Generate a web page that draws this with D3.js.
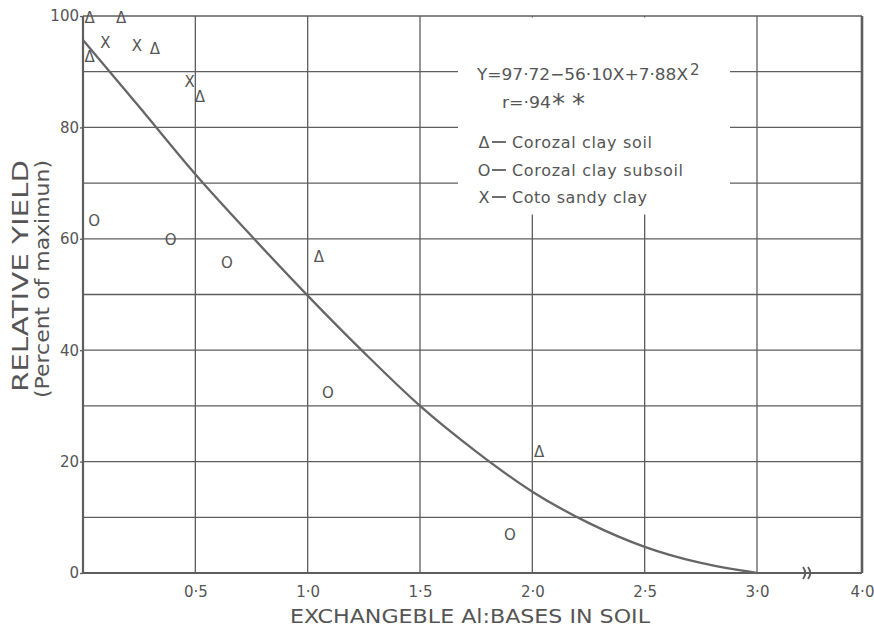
<!DOCTYPE html>
<html><head><meta charset="utf-8">
<script src="https://cdn.jsdelivr.net/npm/d3@7"></script>
<style>
body{margin:0;background:#fff}
svg{display:block}
text{font-family:"DejaVu Sans",sans-serif;fill:#555}
</style>
</head><body>
<svg id="c" width="874" height="629"></svg>
<script>
// ---- data ----
const xTicks = [0.5, 1, 1.5, 2, 2.5, 3, 4];
const xTickLabels = ["0·5", "1·0", "1·5", "2·0", "2·5", "3·0", "4·0"];
const xGrid = [0.5, 1, 1.5, 2, 2.5, 3];
const yTicks = [0, 20, 40, 60, 80, 100];
const yTickLabels = ["0", "20", "40", "60", "80", "100"];
const yGrid = [10, 20, 30, 40, 50, 60, 70, 80, 90];

const soilX = [0.03, 0.03, 0.17, 0.32, 0.52, 1.05, 2.03];
const soilY = [99.6, 92.6, 99.6, 94.0, 85.5, 56.7, 21.7];
const subsoilX = [0.05, 0.39, 0.64, 1.09, 1.90];
const subsoilY = [63.2, 59.7, 55.6, 32.4, 6.9];
const cotoX = [0.10, 0.24, 0.475];
const cotoY = [95.2, 94.7, 88.2];

const curveX = [0, 0.25, 0.5, 0.75, 1.0, 1.25, 1.5, 1.75, 2.0, 2.25, 2.5, 2.75, 3.0];
const curveY = [95.7, 83.7, 71.6, 60.5, 49.8, 39.6, 30.0, 21.8, 14.6, 9.0, 4.7, 1.8, 0];

const legendSymbols = ["Δ", "O", "X"];
const legendLabels = ["Corozal clay soil", "Corozal clay subsoil", "Coto sandy clay"];
const equationText = "Y=97·72−56·10X+7·88X";
const rText = "r=·94";

// ---- layout ----
const svg = d3.select("#c");
const ink = "#5e5e5e";
const x = d3.scaleLinear().domain([0, 3, 4]).range([83, 757, 862]);
const y = d3.scaleLinear().domain([0, 100]).range([573, 16]);

// grid
const g = svg.append("g");
g.selectAll(".hg").data(yGrid).join("line")
  .attr("x1", x(0)).attr("x2", x(4))
  .attr("y1", d => y(d)).attr("y2", d => y(d))
  .attr("stroke", ink).attr("stroke-width", 1.3);
g.selectAll(".vg").data(xGrid).join("line")
  .attr("x1", d => x(d)).attr("x2", d => x(d))
  .attr("y1", y(0)).attr("y2", y(100))
  .attr("stroke", ink).attr("stroke-width", 1.3);

// legend area blank
svg.append("rect").attr("x", 458).attr("y", y(100) + 1.5)
  .attr("width", 272).attr("height", 197).attr("fill", "#fff");

// frame
svg.append("line").attr("x1", x(0)).attr("x2", x(4)).attr("y1", y(100)).attr("y2", y(100))
  .attr("stroke", ink).attr("stroke-width", 1.6);
svg.append("line").attr("x1", x(0)).attr("x2", x(4)).attr("y1", y(0)).attr("y2", y(0))
  .attr("stroke", ink).attr("stroke-width", 2);
svg.append("line").attr("x1", x(0)).attr("x2", x(0)).attr("y1", y(100)).attr("y2", y(0))
  .attr("stroke", ink).attr("stroke-width", 2.2);
svg.append("line").attr("x1", x(4)).attr("x2", x(4)).attr("y1", y(100)).attr("y2", y(0))
  .attr("stroke", ink).attr("stroke-width", 2.6);

// axis break symbol
[803, 808].forEach(px => {
  svg.append("path").attr("d", `M${px},${y(0) - 6} q4.5,6 0,12`)
    .attr("fill", "none").attr("stroke", ink).attr("stroke-width", 2);
});

// axes (labels)
const xa = svg.append("g").attr("transform", `translate(0,${y(0)})`)
  .call(d3.axisBottom(x).tickValues(xTicks).tickSize(0).tickPadding(10)
    .tickFormat((d, i) => xTickLabels[i]));
xa.select(".domain").remove();
xa.selectAll("text").attr("font-size", 15).attr("fill", "#555")
  .attr("font-family", "DejaVu Sans").attr("dy", "0.9em");

const ya = svg.append("g").attr("transform", `translate(${x(0)},0)`)
  .call(d3.axisLeft(y).tickValues(yTicks).tickSize(3).tickPadding(1)
    .tickFormat((d, i) => yTickLabels[i]));
ya.select(".domain").remove();
ya.selectAll("line").attr("stroke", ink).attr("stroke-width", 1.3);
ya.selectAll("text").attr("font-size", 15).attr("fill", "#555")
  .attr("font-family", "DejaVu Sans");

// fitted curve
const line = d3.line().x(d => x(d[0])).y(d => y(d[1])).curve(d3.curveMonotoneX);
svg.append("path").datum(curveX.map((v, i) => [v, curveY[i]]))
  .attr("d", line).attr("fill", "none").attr("stroke", "#666").attr("stroke-width", 2.3);

// markers
function markers(xs, ys, sym) {
  svg.append("g").selectAll("text").data(xs.map((v, i) => [v, ys[i]])).join("text")
    .attr("x", d => x(d[0])).attr("y", d => y(d[1]))
    .attr("text-anchor", "middle").attr("dominant-baseline", "central")
    .attr("font-size", 15).text(sym);
}
markers(soilX, soilY, "Δ");
markers(subsoilX, subsoilY, "O");
markers(cotoX, cotoY, "X");

// equation
const eq = svg.append("text").attr("x", 477).attr("y", 80).attr("font-size", 16);
eq.append("tspan").text(equationText).attr("textLength", 211).attr("lengthAdjust", "spacingAndGlyphs");
eq.append("tspan").text("2").attr("x", 690).attr("dy", -5).attr("font-size", 15);
const rt = svg.append("text").attr("x", 502).attr("y", 108).attr("font-size", 16);
rt.append("tspan").text(rText).attr("textLength", 49).attr("lengthAdjust", "spacingAndGlyphs");
svg.append("text").attr("x", 552).attr("y", 113).attr("font-size", 26).text("**")
  .attr("textLength", 33).attr("lengthAdjust", "spacing");

// legend
const legBase = [148, 176, 203];
const legEnd = [652, 683, 647];
legendLabels.forEach((lab, i) => {
  svg.append("text").attr("x", 484).attr("y", legBase[i]).attr("text-anchor", "middle")
    .attr("font-size", 16).text(legendSymbols[i]);
  svg.append("line").attr("x1", 492).attr("x2", 506)
    .attr("y1", legBase[i] - 6).attr("y2", legBase[i] - 6)
    .attr("stroke", ink).attr("stroke-width", 1.8);
  svg.append("text").attr("x", 512).attr("y", legBase[i]).attr("font-size", 16)
    .attr("textLength", legEnd[i] - 512).attr("lengthAdjust", "spacing").text(lab);
});

// axis titles
svg.append("text").attr("x", 290).attr("y", 623).attr("font-size", 19)
  .attr("textLength", 360).attr("lengthAdjust", "spacingAndGlyphs")
  .text("EXCHANGEBLE Al:BASES IN SOIL");
svg.append("text").attr("transform", "translate(28,392) rotate(-90)")
  .attr("font-size", 21).attr("textLength", 232).attr("lengthAdjust", "spacingAndGlyphs")
  .text("RELATIVE YIELD");
svg.append("text").attr("transform", "translate(49,398) rotate(-90)")
  .attr("font-size", 19).attr("textLength", 238).attr("lengthAdjust", "spacingAndGlyphs")
  .text("(Percent of maximun)");
</script>
</body></html>
